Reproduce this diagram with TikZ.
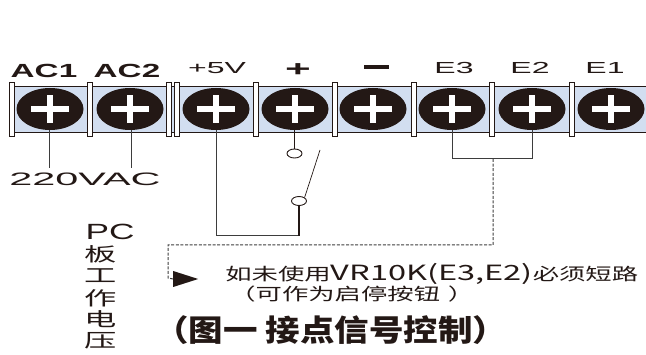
\documentclass[tikz,border=0pt]{standalone}
\usepackage{fontspec}
\setmainfont{Liberation Sans}
\newfontfamily\cjk{Noto Sans CJK SC}
\usetikzlibrary{shapes.geometric}
\definecolor{stripblue}{HTML}{D2DEF0}
\definecolor{inkblack}{HTML}{231815}
\definecolor{wiregray}{HTML}{3D3D3D}
\begin{document}
\begin{tikzpicture}[
        x=1pt, y=-1pt,
        screw/.style={ellipse, fill=inkblack, minimum width=67pt, minimum height=42pt, inner sep=0pt},
        contact/.style={ellipse, draw=inkblack, fill=white, line width=0.9pt, minimum width=15pt, minimum height=9pt, inner sep=0pt},
        divider/.style={draw=inkblack, fill=white, line width=0.8pt},
        wire/.style={draw=wiregray, line width=1pt},
        heavywire/.style={draw=inkblack, line width=1.8pt},
        linkdash/.style={draw=wiregray, line width=1pt, dash pattern=on 3pt off 1.6pt},
        boldterm/.style={font=\bfseries\fontsize{19}{19}\selectfont, xscale=1.75, transform shape, text=inkblack, inner sep=0pt},
        thinterm/.style={font=\fontsize{16}{16}\selectfont, xscale=2, transform shape, text=inkblack, inner sep=0pt},
        sidetext/.style={font=\cjk\fontsize{19}{19}\selectfont, xscale=1.7, transform shape, text=inkblack, inner sep=0pt},
        notetext/.style={font=\cjk\fontsize{17}{17}\selectfont, xscale=1.55, transform shape, text=inkblack, inner sep=0pt},
    ]
    \useasboundingbox (0,0) rectangle (646,355);
    % strip
    \fill[stripblue] (14,86) rectangle (646,132);
    \draw[inkblack, line width=0.8pt] (14,86) -- (646,86) (14,132) -- (646,132);
    \foreach \px in {12,90,169,177,256,335,414,492,572}
        \draw[divider] (\px-2.5,82.5) rectangle (\px+2.5,136);
    % terminals
    \foreach \name/\px in {acone/50,actwo/130,five/216,plus/295,minus/373,ethree/452,etwo/532,eone/611} {
        \node[screw] (\name) at (\px,109) {};
        \fill[white] (\px-19,106) rectangle (\px+19,112);
        \fill[white] (\px-3,95) rectangle (\px+3,123);
    }
    % labels on top
    \node[boldterm] (lacone) at (44,71) {AC1};
    \node[boldterm] (lactwo) at (127,71) {AC2};
    \node[thinterm] (lfive) at (217,68) {+5V};
    \node[thinterm, font=\bfseries\fontsize{22}{22}\selectfont] (lplus) at (298,70) {+};
    \fill[inkblack] (364,65.5) rectangle (389,69);
    \node[thinterm] (lethree) at (454,68) {E3};
    \node[thinterm] (letwo) at (530,68) {E2};
    \node[thinterm] (leone) at (605,68) {E1};
    \node[thinterm, font=\fontsize{18}{18}\selectfont, xscale=1.15] (lac) at (85,179) {220VAC};
    % mains wires
    \coordinate (acleft) at (49,168);
    \coordinate (acright) at (131,168);
    \draw[wire] (acone.south) ++(-1,0) -- (acleft);
    \draw[wire] (actwo.south) ++(1,0) -- (acright);
    % switch
    \node[contact] (upper) at (294.5,153.5) {};
    \node[contact] (lower) at (299,201) {};
    \coordinate (armtop) at (320,150);
    \coordinate (corner) at (216,236);
    \coordinate (cornerb) at (299,236);
    \draw[heavywire] (plus.south) ++(-0.5,0) -- (upper.north);
    \draw[draw=inkblack, line width=0.7pt] (lower.north east) -- (armtop);
    \draw[wire] (five.south) -- (corner) -- (cornerb);
    \draw[heavywire] (cornerb) -- (lower.south);
    % E3 E2 link
    \coordinate (linkl) at (452,159);
    \coordinate (linkr) at (532,159);
    \coordinate (linkm) at (493,159);
    \coordinate (dasha) at (493,245);
    \coordinate (dashb) at (168,245);
    \coordinate (dashc) at (168,278);
    \node[isosceles triangle, isosceles triangle stretches, fill=inkblack, minimum width=16pt, minimum height=25pt, inner sep=0pt, anchor=west] (pointer) at (173,279) {};
    \draw[wire] (ethree.south) -- (linkl) -- (linkr) -- (etwo.south);
    \draw[linkdash] (linkm) -- (dasha) -- (dashb) -- (dashc) -- (pointer.west);
    % side text
    \node[thinterm, font=\fontsize{22}{22}\selectfont, xscale=0.8] (lpc) at (110,232) {PC};
    \foreach \name/\txt/\py in {sa/板/254,sb/工/276,sc/作/298,sd/电/319,se/压/341}
        \node[sidetext] (\name) at (101,\py) {\txt};
    % notes
    \node[notetext, anchor=west] (notea) at (225,274) {如未使用{\fontsize{21}{17}\selectfont VR10K(E3,E2)}必须短路};
    \node[notetext, anchor=west] (noteb) at (229,294) {（可作为启停按钮\hspace{5pt}）};
    \node[anchor=west, font=\cjk\bfseries\fontsize{30}{30}\selectfont, xscale=1.15, transform shape, text=inkblack, inner sep=0pt] (title) at (154,330) {（图一 接点信号控制）};
\end{tikzpicture}
\end{document}
